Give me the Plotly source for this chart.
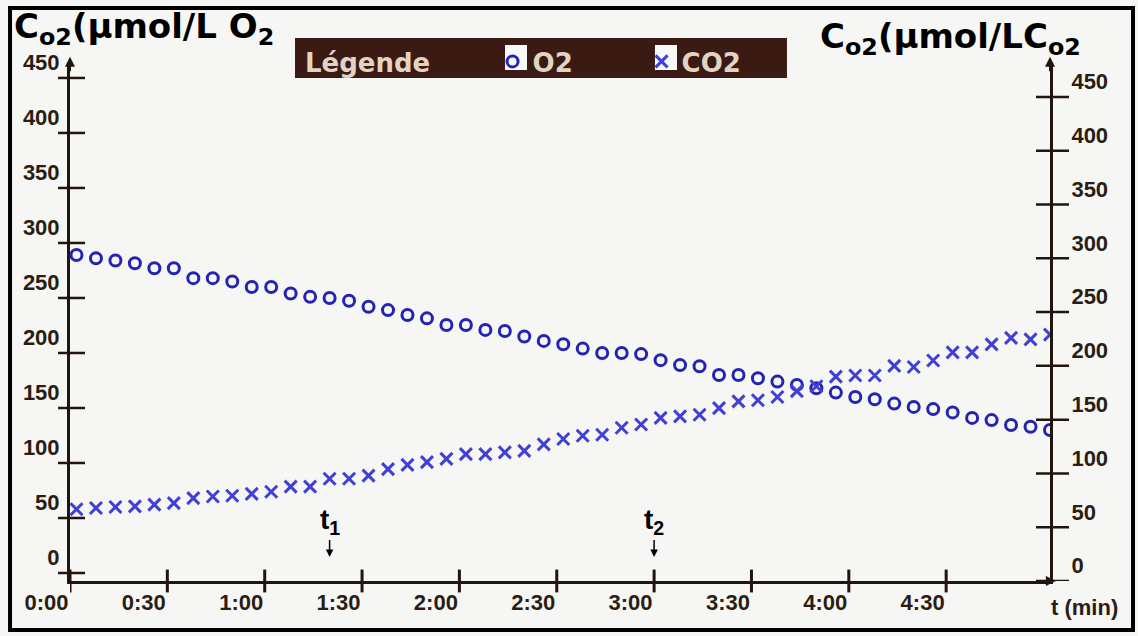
import plotly.graph_objects as go

# ---------------- data ----------------
TIME_S = [2, 8, 14, 20, 26, 32, 38, 44, 50, 56, 62, 68, 74, 80, 86, 92, 98, 104,
          110, 116, 122, 128, 134, 140, 146, 152, 158, 164, 170, 176, 182, 188,
          194, 200, 206, 212, 218, 224, 230, 236, 242, 248, 254, 260, 266, 272,
          278, 284, 290, 296, 302]

O2_UMOL = [289, 286, 284, 281.5, 277, 277, 268, 268, 265, 260, 260, 254, 251, 250,
           247.5, 242, 239, 234.5, 231.5, 225.5, 225.5, 221, 220, 215, 211, 208,
           204, 200, 200, 199, 193.5, 189, 188, 180, 180, 177, 174, 171, 168, 164,
           160, 158, 154, 151, 149, 146, 141, 139, 134.5, 133, 130]

CO2_UMOL = [66.7, 67.9, 68.8, 69.4, 71, 72.4, 77, 78.5, 79.2, 81, 83, 87.7, 87.7,
            95, 95, 98, 104, 108, 110.5, 113.5, 118, 118, 119.6, 121, 127, 132, 135,
            136, 142.5, 145.5, 151.6, 153, 154.6, 160.7, 167, 168, 171, 176.5, 181,
            190, 191, 191, 200, 199, 205, 212.5, 212.5, 220, 226, 224.6, 229]

X_TICK_VALS = [0, 30, 60, 90, 120, 150, 180, 210, 240, 270]
X_TICK_TEXT = ["0:00", "0:30", "1:00", "1:30", "2:00", "2:30", "3:00", "3:30", "4:00", "4:30"]
Y_TICK_VALS = [0, 50, 100, 150, 200, 250, 300, 350, 400, 450]

T1_S = 80
T2_S = 180

# ---------------- style ----------------
INK = "#21150d"
LABEL = "#2b1d12"
O2_COLOR = "#2424b4"
CO2_COLOR = "#4040d6"
BG = "#f6f6f4"
TICK_FONT = dict(family="Liberation Sans, Arial, sans-serif", size=22, color=LABEL, weight="bold")
LEG_FONT = dict(family="DejaVu Sans", size=26, color="#e2d4c2", weight="bold")

fig = go.Figure()
fig.add_trace(go.Scatter(
    x=TIME_S, y=O2_UMOL, name="O2", mode="markers",
    marker=dict(symbol="circle-open", size=11, color=O2_COLOR, line=dict(width=3, color=O2_COLOR)),
    yaxis="y"))
fig.add_trace(go.Scatter(
    x=TIME_S, y=CO2_UMOL, name="CO2", mode="markers",
    marker=dict(symbol="x-thin-open", size=12, color=CO2_COLOR, line=dict(width=3, color=CO2_COLOR)),
    yaxis="y2"))

shapes = []
# outer frame
shapes.append(dict(type="rect", xref="paper", yref="paper", x0=-0.0612, x1=1.0847, y0=-0.0944, y1=1.104,
                   line=dict(color="#000000", width=4), fillcolor="rgba(0,0,0,0)", layer="above"))
# legend box and white symbol boxes
shapes.append(dict(type="rect", xref="paper", yref="paper", x0=0.2296, x1=0.7316, y0=0.9692, y1=1.0462,
                   line=dict(width=0), fillcolor="#3a1a12", layer="above"))
for x0, x1 in [(0.4439, 0.4663), (0.5969, 0.6194)]:
    shapes.append(dict(type="rect", xref="paper", yref="paper", x0=x0, x1=x1, y0=0.9846, y1=1.0328,
                       line=dict(width=0), fillcolor="#f8f8f8", layer="above"))
# crossing tick marks
for v in X_TICK_VALS:
    shapes.append(dict(type="line", xref="x", yref="paper", x0=v, x1=v, y0=-0.022, y1=0.022,
                       line=dict(color=INK, width=3)))
for v in Y_TICK_VALS:
    shapes.append(dict(type="line", xref="paper", yref="y", x0=-0.0122, x1=0.0153, y0=v, y1=v,
                       line=dict(color=INK, width=2.5)))
    shapes.append(dict(type="line", xref="paper", yref="y2", x0=0.9857, x1=1.0194, y0=v, y1=v,
                       line=dict(color=INK, width=2.5)))

annotations = [
    dict(text="C<sub>o2</sub>(µmol/L O<sub>2</sub>", xref="paper", yref="paper", x=-0.0592, y=1.064,
         xanchor="left", yanchor="middle", showarrow=False,
         font=dict(family="DejaVu Sans", size=34, color="#000000", weight="bold")),
    dict(text="C<sub>o2</sub>(µmol/LC<sub>o2</sub>", xref="paper", yref="paper", x=0.7633, y=1.046,
         xanchor="left", yanchor="middle", showarrow=False,
         font=dict(family="DejaVu Sans", size=34, color="#000000", weight="bold")),
    dict(text="t (min)", xref="paper", yref="paper", x=1.0357, y=-0.052, xanchor="center", yanchor="middle",
         showarrow=False, font=dict(family="Liberation Sans Narrow, Liberation Sans", size=22, color=LABEL, weight="bold")),
    dict(text="t<sub>1</sub>", x=T1_S, y=14.5, xref="x", yref="y", showarrow=True, ax=0, ay=-36,
         arrowhead=2, arrowsize=1, arrowwidth=1.5, arrowcolor="#000000",
         font=dict(family="Liberation Sans Narrow, Liberation Sans", size=28, color="#000000", weight="bold")),
    dict(text="t<sub>2</sub>", x=T2_S, y=14.5, xref="x", yref="y", showarrow=True, ax=0, ay=-36,
         arrowhead=2, arrowsize=1, arrowwidth=1.5, arrowcolor="#000000",
         font=dict(family="Liberation Sans Narrow, Liberation Sans", size=28, color="#000000", weight="bold")),
    # axis-end arrows
    dict(text="", xref="paper", yref="paper", x=0, y=1.01, ax=0, ay=16, showarrow=True,
         arrowhead=2, arrowsize=1, arrowwidth=2, arrowcolor=INK),
    dict(text="", xref="paper", yref="paper", x=1, y=1.01, ax=0, ay=16, showarrow=True,
         arrowhead=2, arrowsize=1, arrowwidth=2, arrowcolor=INK),
    dict(text="", xref="paper", yref="paper", x=1.006, y=0, ax=-16, ay=0, showarrow=True,
         arrowhead=2, arrowsize=1, arrowwidth=2, arrowcolor=INK),
]

fig.update_layout(
    width=1138, height=636, autosize=False,
    margin=dict(l=70, r=88, t=62, b=55),
    paper_bgcolor=BG, plot_bgcolor=BG,
    showlegend=True,
    legend=dict(orientation="h", x=0.2378, xanchor="left", y=1.0462, yanchor="top",
                bgcolor="rgba(0,0,0,0)", borderwidth=0,
                title=dict(text="Légende" + "\u00a0" * 6, font=LEG_FONT),
                font=LEG_FONT,
                entrywidth=104, entrywidthmode="pixels"),
    xaxis=dict(range=[0, 302], tickvals=X_TICK_VALS, ticktext=X_TICK_TEXT, ticks="",
               showline=True, linecolor=INK, linewidth=3, showgrid=False, zeroline=False,
               ticklabelposition="outside left", tickfont=TICK_FONT),
    yaxis=dict(range=[-7.27, 464.5], tickvals=Y_TICK_VALS, ticks="", showline=True, linecolor=INK,
               linewidth=3, showgrid=False, zeroline=False, ticklabelposition="outside top",
               ticklabelstandoff=3, tickfont=TICK_FONT),
    yaxis2=dict(range=[0, 482.5], tickvals=Y_TICK_VALS, ticks="", overlaying="y", side="right",
                showline=True, linecolor=INK, linewidth=3, showgrid=False, zeroline=False,
                ticklabelposition="outside top", ticklabelstandoff=14, tickfont=TICK_FONT),
    shapes=shapes,
    annotations=annotations,
)

fig.write_html("out.html")
